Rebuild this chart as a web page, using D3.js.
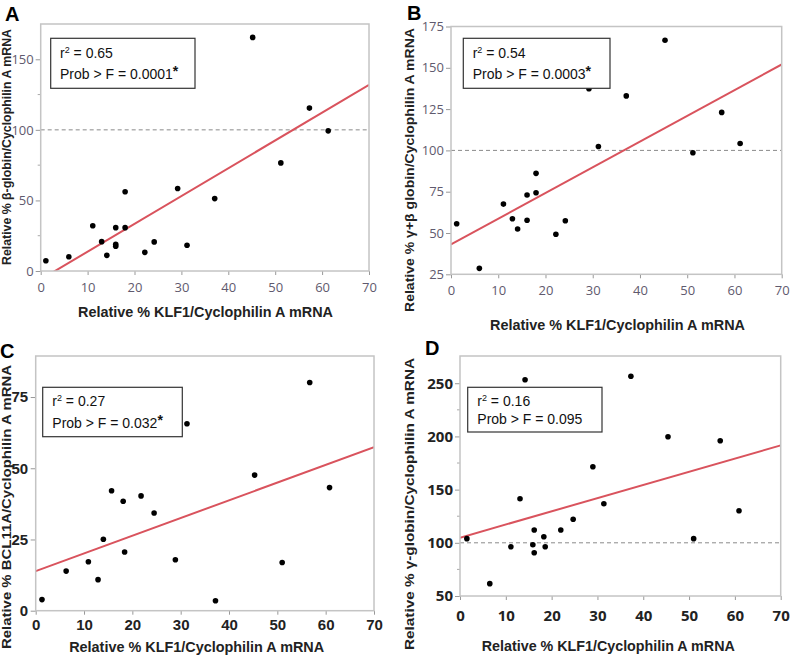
<!DOCTYPE html>
<html>
<head>
<meta charset="utf-8">
<script src="https://cdn.jsdelivr.net/npm/d3@7"></script>
<style>
  body { margin: 0; background: #fff; }
  svg { display: block; }
</style>
</head>
<body>
<svg id="chart" width="795" height="657"></svg>
<script>
// ---- data ----
const xTicks = [0, 10, 20, 30, 40, 50, 60, 70];
const xTitle = "Relative % KLF1/Cyclophilin A mRNA";

// A: beta-globin
const klfA  = [1.1, 6.0, 11.1, 13.0, 14.1, 16.0, 16.0, 16.0, 18.0, 18.0, 22.2, 24.2, 29.2, 31.2, 37.1, 45.2, 51.2, 57.3, 61.3];
const betaA = [7.3, 10.1, 32.1, 20.8, 11.1, 30.7, 18.9, 17.5, 56.2, 30.7, 13.2, 20.6, 58.4, 18.2, 51.3, 165.5, 76.6, 115.4, 99.3];
const fitA  = [-6.0, 1.97];   // intercept, slope
const yTicksA = [0, 50, 100, 150];
const yMinorA = [25, 75, 125];
const statsA = ["0.65", "0.0001", true];

// B: gamma+beta globin
const klfB = [1.2, 6.0, 11.1, 13.0, 14.1, 16.1, 16.1, 18.0, 18.0, 22.2, 24.2, 29.2, 31.2, 37.1, 45.3, 51.2, 57.3, 61.2];
const gbB  = [55.6, 28.6, 67.5, 58.6, 52.4, 73.0, 57.7, 86.1, 74.4, 49.2, 57.4, 137.3, 102.4, 133.0, 166.7, 98.6, 123.0, 104.2];
const fitB = [43.1, 1.556];
const yTicksB = [25, 50, 75, 100, 125, 150, 175];
const statsB = ["0.54", "0.0003", true];

// C: BCL11A
const klfC = [1.3, 6.3, 10.9, 12.9, 14.0, 15.7, 18.1, 18.4, 21.8, 24.5, 28.9, 31.3, 37.2, 45.3, 51.0, 56.7, 60.8];
const bclC = [3.9, 13.9, 17.2, 10.9, 25.1, 42.1, 38.4, 20.6, 40.3, 34.3, 17.9, 65.6, 3.5, 47.6, 16.9, 80.1, 43.2];
const fitC = [13.9, 0.621];
const yTicksC = [0, 25, 50, 75];
const statsC = ["0.27", "0.032", true];

// D: gamma-globin
const klfD = [1.5, 6.5, 11.1, 13.1, 14.2, 15.9, 16.2, 16.2, 18.3, 18.6, 22.0, 24.7, 29.0, 31.4, 37.3, 45.4, 51.0, 56.8, 60.9];
const gD   = [103.9, 61.6, 96.3, 141.4, 253.3, 98.2, 112.0, 90.7, 105.7, 96.3, 112.0, 122.1, 171.5, 136.7, 256.5, 199.7, 103.9, 196.0, 130.2];
const fitD = [104.8, 1.24];
const yTicksD = [50, 100, 150, 200, 250];
const yMinorD = [75, 125, 175, 225];
const statsD = ["0.16", "0.095", false];

const svg = d3.select("#chart");
const boldFont = "'Liberation Sans', Arial, sans-serif";
const lineRed = "#d9535d";

const panels = [
  { id: "A", xs: klfA, ys: betaA, fit: fitA, stats: statsA,
    left: 40.7, right: 369, top: 24, bottom: 271,
    yDomain: [0, 175], yTicks: yTicksA, yMinor: yMinorA, ref: 100,
    tickFont: "'Open Sans', sans-serif", tickWeight: 400, tickColor: "#5f5a6e", tickSize: 13,
    xPad: 8, yPad: 2,
    letter: [5, 21],
    box: [50.7, 38.3, 144.3, 50], textX: 60, base1: 57.5, base2: 79,
    yTitle: "Relative % β-globin/Cyclophilin A mRNA", yTitleX: 10.5, yTitleC: 147, yTitleLen: 236,
    xTitleX: 205.5, xTitleY: 317, xTitleLen: 255 },
  { id: "B", xs: klfB, ys: gbB, fit: fitB, stats: statsB,
    left: 451, right: 781.7, top: 26.5, bottom: 274.3,
    yDomain: [25, 175], yTicks: yTicksB, yMinor: [], ref: 100,
    tickFont: "'Open Sans', sans-serif", tickWeight: 400, tickColor: "#5f5a6e", tickSize: 13,
    xPad: 7, yPad: 2,
    letter: [407, 20],
    box: [463.3, 38.3, 146.7, 50], textX: 472.7, base1: 57.5, base2: 79,
    yTitle: "Relative % γ+β globin/Cyclophilin A mRNA", yTitleX: 413.5, yTitleC: 170, yTitleLen: 284,
    xTitleX: 617.5, xTitleY: 330, xTitleLen: 255 },
  { id: "C", xs: klfC, ys: bclC, fit: fitC, stats: statsC,
    left: 35.7, right: 374, top: 356, bottom: 610.7,
    yDomain: [0, 89.4], yTicks: yTicksC, yMinor: [], ref: null,
    tickFont: boldFont, tickWeight: 700, tickColor: "#222", tickSize: 15,
    xPad: 5, yPad: 2.5,
    letter: [0, 358],
    box: [42.7, 387.3, 139.6, 49.4], textX: 52.3, base1: 406, base2: 427.5,
    yTitle: "Relative % BCL11A/Cyclophilin A mRNA", yTitleX: 10.5, yTitleC: 507, yTitleLen: 284,
    xTitleX: 196.7, xTitleY: 652, xTitleLen: 255 },
  { id: "D", xs: klfD, ys: gD, fit: fitD, stats: statsD,
    left: 460, right: 780.7, top: 356, bottom: 596,
    yDomain: [50, 275.6], yTicks: yTicksD, yMinor: yMinorD, ref: 100,
    tickFont: "'Open Sans', sans-serif", tickWeight: 700, tickColor: "#222", tickSize: 15,
    xPad: 10.5, yPad: 2,
    letter: [425, 355],
    box: [467.7, 387.3, 134.3, 44.7], textX: 477.3, base1: 406, base2: 424,
    yTitle: "Relative % γ-globin/Cyclophilin A mRNA", yTitleX: 413.5, yTitleC: 504, yTitleLen: 292,
    xTitleX: 608.3, xTitleY: 651, xTitleLen: 253 }
];

panels.forEach(p => {
  const g = svg.append("g");

  const x = d3.scaleLinear().domain([0, 70]).range([p.left, p.right]);
  const y = d3.scaleLinear().domain(p.yDomain).range([p.bottom, p.top]);

  // clip for the fit line
  svg.append("clipPath").attr("id", "clip" + p.id)
    .append("rect")
    .attr("x", p.left).attr("y", p.top)
    .attr("width", p.right - p.left).attr("height", p.bottom - p.top);

  // x axis
  const xAxis = g.append("g")
    .attr("transform", `translate(0,${p.bottom})`)
    .call(d3.axisBottom(x).tickValues(xTicks).tickSize(4).tickPadding(p.xPad));
  // y axis
  const yAxis = g.append("g")
    .attr("transform", `translate(${p.left},0)`)
    .call(d3.axisLeft(y).tickValues(p.yTicks).tickSize(5).tickPadding(p.yPad));
  // minor ticks
  yAxis.selectAll(".minor")
    .data(p.yMinor)
    .enter()
    .append("line")
    .attr("class", "minor")
    .attr("x1", -3).attr("x2", 0)
    .attr("y1", d => y(d)).attr("y2", d => y(d))
    .attr("stroke", "#aaa");

  [xAxis, yAxis].forEach(a => {
    a.select(".domain").remove();
    a.selectAll(".tick line").attr("stroke", "#999");
    a.selectAll(".tick text")
      .attr("fill", p.tickColor)
      .style("font-family", p.tickFont)
      .style("font-weight", p.tickWeight)
      .style("font-size", p.tickSize + "px");
  });

  // reference line
  if (p.ref !== null) {
    g.append("line")
      .attr("x1", p.left).attr("x2", p.right)
      .attr("y1", y(p.ref)).attr("y2", y(p.ref))
      .attr("stroke", "#8a8a8a")
      .attr("stroke-width", 1)
      .attr("stroke-dasharray", "4,3");
  }

  // fit line
  g.append("line")
    .attr("clip-path", `url(#clip${p.id})`)
    .attr("x1", x(0)).attr("y1", y(p.fit[0]))
    .attr("x2", x(70)).attr("y2", y(p.fit[0] + p.fit[1] * 70))
    .attr("stroke", lineRed)
    .attr("stroke-width", 2);

  // points
  g.append("g")
    .selectAll("circle")
    .data(p.xs.map((v, i) => [v, p.ys[i]]))
    .enter()
    .append("circle")
    .attr("cx", d => x(d[0]))
    .attr("cy", d => y(d[1]))
    .attr("r", 2.8)
    .attr("fill", "#000");

  // frame
  g.append("rect")
    .attr("x", p.left).attr("y", p.top)
    .attr("width", p.right - p.left).attr("height", p.bottom - p.top)
    .attr("fill", "none")
    .attr("stroke", "#c4c4c4")
    .attr("stroke-width", 1.5);

  // stats box
  g.append("rect")
    .attr("x", p.box[0]).attr("y", p.box[1])
    .attr("width", p.box[2]).attr("height", p.box[3])
    .attr("fill", "#fff")
    .attr("stroke", "#333")
    .attr("stroke-width", 1.2);

  const t1 = g.append("text")
    .attr("x", p.textX).attr("y", p.base1)
    .style("font-family", "'Liberation Sans', Arial, sans-serif")
    .style("font-size", "14px")
    .attr("fill", "#111");
  t1.append("tspan").text("r");
  t1.append("tspan").attr("dy", -5).style("font-size", "9px").text("2");
  t1.append("tspan").attr("dy", 5).text(" = " + p.stats[0]);

  const t2 = g.append("text")
    .attr("x", p.textX).attr("y", p.base2)
    .style("font-family", "'Liberation Sans', Arial, sans-serif")
    .style("font-size", "14px")
    .attr("fill", "#111");
  t2.append("tspan").text("Prob > F = " + p.stats[1]);
  if (p.stats[2]) {
    t2.append("tspan").attr("dy", -3).style("font-weight", 700).text("*");
  }

  // panel letter
  g.append("text")
    .attr("x", p.letter[0]).attr("y", p.letter[1])
    .style("font-family", boldFont)
    .style("font-weight", 700)
    .style("font-size", "20px")
    .text(p.id);

  // axis titles
  g.append("text")
    .attr("x", p.xTitleX).attr("y", p.xTitleY)
    .attr("text-anchor", "middle")
    .attr("textLength", p.xTitleLen)
    .attr("lengthAdjust", "spacingAndGlyphs")
    .style("font-family", boldFont)
    .style("font-weight", 700)
    .style("font-size", "14px")
    .attr("fill", "#222")
    .text(xTitle);

  g.append("text")
    .attr("transform", `translate(${p.yTitleX},${p.yTitleC}) rotate(-90)`)
    .attr("text-anchor", "middle")
    .attr("textLength", p.yTitleLen)
    .attr("lengthAdjust", "spacingAndGlyphs")
    .style("font-family", boldFont)
    .style("font-weight", 700)
    .style("font-size", "13px")
    .attr("fill", "#222")
    .text(p.yTitle);
});
</script>
</body>
</html>
